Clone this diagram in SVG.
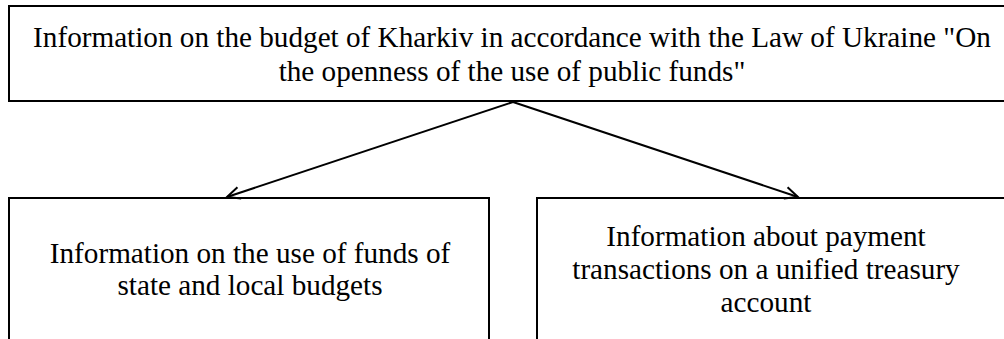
<svg xmlns="http://www.w3.org/2000/svg" width="1004" height="339" viewBox="0 0 1004 339">
  <style>
    .box { fill: #ffffff; stroke: #000000; stroke-width: 2; }
    .label { font-family: 'Liberation Serif', 'DejaVu Serif', serif; font-size: 29.2px; fill: #000000; text-anchor: middle; }
    .link { fill: none; stroke: #000000; stroke-width: 2; }
  </style>
  <defs>
    <!-- open V-shaped arrowhead for the connectors -->
    <marker id="open-arrow" viewBox="-14 -7 16 14" markerWidth="16" markerHeight="14" refX="0" refY="0" orient="auto" markerUnits="userSpaceOnUse">
      <path d="M -13 -6 L 0 0 L -13 6" fill="none" stroke="#000000" stroke-width="2"/>
    </marker>
  </defs>

  <g id="node-budget-info">
    <rect class="box" x="9" y="6" width="1010" height="95"/>
    <text class="label" x="512" y="47">Information on the budget of Kharkiv in accordance with the Law of Ukraine "On</text>
    <text class="label" x="512" y="81">the openness of the use of public funds"</text>
  </g>

  <g id="node-funds-use">
    <rect class="box" x="9" y="198" width="480" height="160"/>
    <text class="label" x="250" y="263">Information on the use of funds of</text>
    <text class="label" x="250" y="295">state and local budgets</text>
  </g>

  <g id="node-treasury">
    <rect class="box" x="537" y="198" width="500" height="160"/>
    <text class="label" x="766" y="246">Information about payment</text>
    <text class="label" x="766" y="279">transactions on a unified treasury</text>
    <text class="label" x="766" y="312">account</text>
  </g>

  <g id="connectors">
    <line class="link" x1="513" y1="102" x2="227" y2="197" marker-end="url(#open-arrow)"/>
    <line class="link" x1="513" y1="102" x2="798" y2="197" marker-end="url(#open-arrow)"/>
  </g>
</svg>
